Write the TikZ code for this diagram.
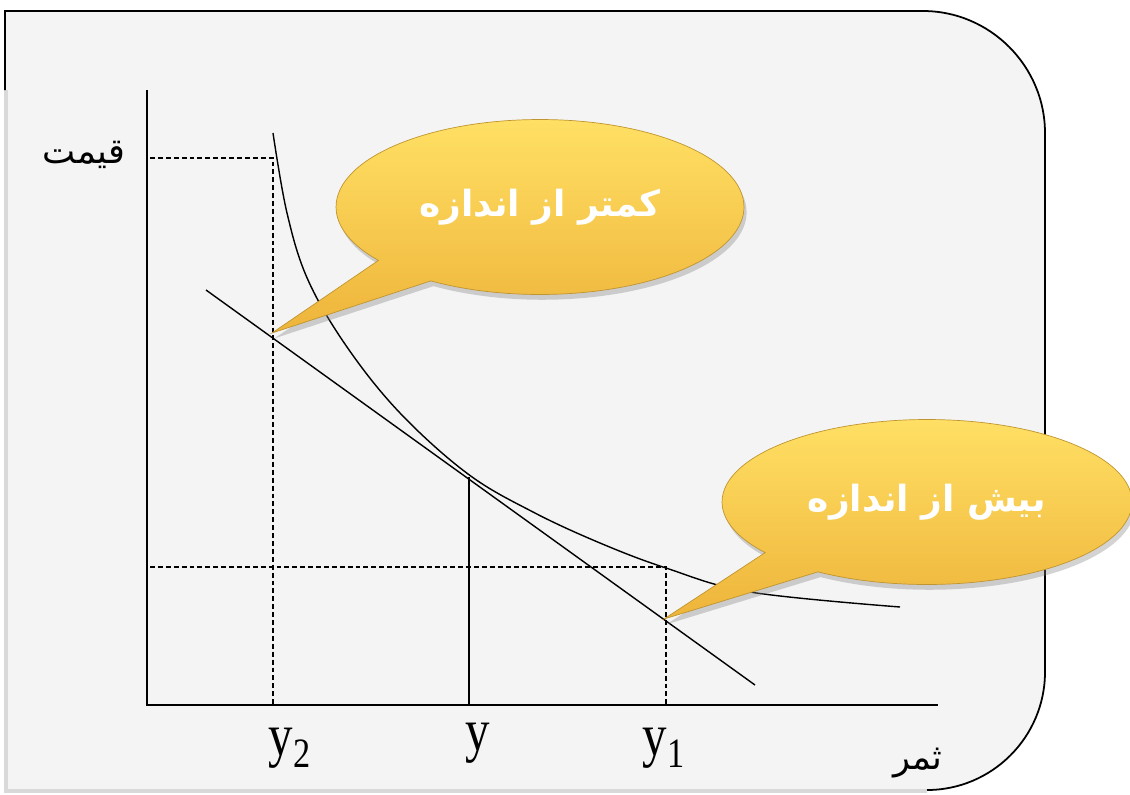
\documentclass[tikz,border=0pt]{standalone}
\usepackage{fontspec}
\setmainfont{Liberation Serif}
\newfontfamily\arabicfont[Script=Arabic]{DejaVu Sans}
\TeXXeTstate=1
\usetikzlibrary{shapes.callouts,shadows}

\definecolor{panelgray}{HTML}{F4F4F4}
\definecolor{bubblelight}{HTML}{FFE064}
\definecolor{bubbledark}{HTML}{EEB43A}
\definecolor{bubbleedge}{HTML}{C09530}

\tikzset{
  guide/.style={dash pattern=on 2.8pt off 1.7pt, line width=0.6pt},
  bubble/.style={ellipse callout, callout pointer arc=20, inner sep=0pt,
    top color=bubblelight, bottom color=bubbledark, draw=bubbleedge, line width=0.4pt,
    drop shadow={opacity=0.35, shadow xshift=1.5pt, shadow yshift=-3pt},
    text=white, font=\arabicfont\bfseries\fontsize{20.5}{24}\selectfont},
  ticklabel/.style={anchor=base, font=\fontsize{34}{34}\selectfont, xscale=0.82},
  faxis/.style={font=\arabicfont\fontsize{20}{22}\selectfont}
}

\begin{document}
\begin{tikzpicture}[x=0.02cm, y=-0.02cm]
  \useasboundingbox (0,0) rectangle (1130,795);
  % panel
  \fill[panelgray] (5,790) -- (5,11) -- (923,11) .. controls (990,11) and (1045,66) .. (1045,133)
    -- (1045,672) .. controls (1045,737) and (992,790) .. (927,790) -- cycle;
  \draw[gray!30, line width=2pt] (927,791) -- (6,791) -- (6,90);
  \draw[line width=1pt] (5,90) -- (5,11) -- (923,11) .. controls (990,11) and (1045,66) .. (1045,133)
    -- (1045,672) .. controls (1045,737) and (992,790) .. (927,790);

  % axes
  \coordinate (O) at (147,705);
  \coordinate (ytop) at (147,90);
  \coordinate (xend) at (938,705);
  \draw[line width=0.9pt] (ytop) -- (O) -- (xend);

  % budget line and curve
  \coordinate (lineA) at (206,290);
  \coordinate (lineB) at (755,685);
  \coordinate (T) at (469,477);
  \draw[line width=0.8pt] (lineA) -- (lineB);
  \draw[line width=0.8pt] plot[smooth, tension=0.6] coordinates {(273,133) (287,213) (308,280)
    (347,347) (400,413) (468,474) (533,512) (600,543) (666,568) (750,592) (900,607)};

  % guides
  \coordinate (p2) at (150,158);
  \coordinate (c2) at (273,158);
  \coordinate (p1) at (150,567);
  \coordinate (c1) at (666,567);
  \draw[guide] (p2) -- (c2) -- (c2 |- O);
  \draw[guide] (p1) -- (c1) -- (c1 |- O);
  \draw[line width=0.8pt] (T) -- (T |- O);

  % callouts
  \coordinate (tip2) at (272,333);
  \coordinate (tip1) at (664,619);
  \node[bubble, callout absolute pointer={(tip2)}, minimum width=8.16cm, minimum height=3.5cm]
    (under) at (540,207) {\beginR کمتر از اندازه\endR};
  \node[bubble, callout absolute pointer={(tip1)}, minimum width=8.2cm, minimum height=3.3cm]
    (over) at (927,502) {\beginR بیش از اندازه\endR};

  % labels
  \node[ticklabel] (ly2) at (290,755) {y\textsubscript{2}};
  \node[ticklabel] (ly) at (478,750) {y};
  \node[ticklabel] (ly1) at (664,755) {y\textsubscript{1}};
  \node[faxis] (price) at (84,155) {\beginR قیمت\endR};
  \node[faxis] (output) at (918,763) {\beginR ثمر\endR};
\end{tikzpicture}
\end{document}
